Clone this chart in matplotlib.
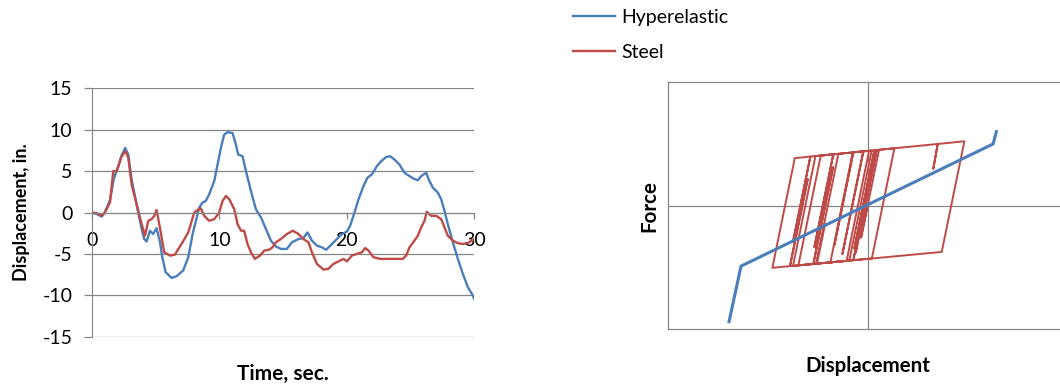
import matplotlib
matplotlib.use("Agg")
import matplotlib.pyplot as plt

# displacement time histories
hyper_t = [0, 0.4, 0.76, 1.0, 1.41, 1.7, 2.0, 2.3, 2.6, 2.85,
           3.11, 3.37, 3.63, 3.9, 4.1, 4.29, 4.55, 4.8, 5.07, 5.33,
           5.52, 5.78, 6.25, 6.64, 7.16, 7.56, 7.9, 8.16, 8.42, 8.68,
           8.94, 9.2, 9.6, 9.86, 10.12, 10.38, 10.65, 11.04, 11.3, 11.48,
           11.82, 12.09, 12.48, 12.87, 13.27, 13.66, 14.05, 14.44, 14.84, 15.3,
           15.7, 16.22, 16.6, 16.92, 17.27, 17.66, 18.05, 18.39, 18.84, 19.23,
           19.62, 20.02, 20.27, 20.53, 20.93, 21.32, 21.63, 21.98, 22.37, 22.71,
           23.1, 23.41, 23.75, 24.14, 24.54, 24.93, 25.23, 25.59, 25.85, 26.24,
           26.5, 26.77, 27.16, 27.42, 27.68, 27.94, 28.34, 28.73, 29.12, 29.51,
           29.9, 30.0]
hyper_disp = [0, -0.2, -0.5, 0.0, 1.5, 4.0, 5.3, 6.8, 7.8, 7.0,
              4.0, 2.0, 0.0, -2.0, -3.2, -3.5, -2.2, -2.6, -1.9, -3.5,
              -5.4, -7.2, -7.9, -7.7, -7.0, -5.4, -2.6, -1.0, 0.6, 1.2,
              1.4, 2.2, 3.8, 5.8, 7.8, 9.4, 9.7, 9.6, 8.2, 7.0,
              6.8, 5.0, 2.6, 0.4, -0.6, -2.0, -3.4, -4.1, -4.4, -4.4,
              -3.6, -3.2, -3.1, -2.4, -3.4, -4.0, -4.2, -4.5, -3.8, -3.2,
              -2.6, -2.3, -1.6, -0.4, 1.6, 3.2, 4.2, 4.6, 5.6, 6.2,
              6.7, 6.8, 6.4, 5.8, 4.8, 4.4, 4.1, 3.9, 4.4, 4.8,
              3.8, 3.0, 2.4, 1.6, 0.2, -1.4, -3.6, -5.6, -7.4, -9.0,
              -10.0, -10.4]

steel_t = [0, 0.4, 0.76, 1.0, 1.41, 1.67, 1.93, 2.12, 2.33, 2.64,
           2.85, 3.11, 3.37, 3.63, 3.9, 4.16, 4.42, 4.68, 4.89, 5.07,
           5.33, 5.67, 6.12, 6.5, 7.03, 7.56, 8.03, 8.29, 8.55, 8.81,
           9.2, 9.6, 9.99, 10.25, 10.52, 10.78, 11.17, 11.43, 11.7, 11.95,
           12.21, 12.48, 12.79, 13.2, 13.52, 13.9, 14.18, 14.44, 14.84, 15.3,
           15.77, 16.22, 16.6, 17.0, 17.27, 17.66, 18.18, 18.57, 18.97, 19.36,
           19.75, 20.02, 20.41, 20.8, 21.19, 21.45, 21.71, 22.1, 22.63, 23.36,
           23.88, 24.41, 24.67, 24.93, 25.32, 25.59, 25.85, 26.11, 26.29, 26.63,
           27.03, 27.42, 27.68, 27.94, 28.34, 28.73, 29.12, 29.51, 30.0]
steel_disp = [0, -0.1, -0.4, 0.0, 1.2, 5.0, 5.0, 5.8, 6.8, 7.4,
              6.6, 3.4, 1.8, 0.2, -1.4, -2.8, -1.0, -0.8, -0.4, 0.3,
              -1.8, -4.8, -5.2, -5.1, -3.8, -2.4, 0.0, 0.3, 0.5, -0.4,
              -1.0, -0.8, 0.0, 1.4, 2.0, 1.6, 0.4, -1.4, -2.2, -2.2,
              -3.8, -4.8, -5.6, -5.2, -4.6, -4.5, -4.2, -3.6, -3.2, -2.6,
              -2.2, -2.6, -3.2, -3.6, -4.8, -6.2, -6.9, -6.8, -6.2, -5.9,
              -5.6, -5.9, -5.2, -5.0, -4.8, -4.3, -4.6, -5.4, -5.6, -5.6,
              -5.6, -5.6, -5.2, -4.2, -3.4, -2.8, -1.8, -1.0, 0.1, -0.4,
              -0.4, -0.8, -1.8, -2.8, -3.4, -3.7, -3.8, -3.7, -3.2]

# force-displacement loops (force scaled to +-1, no units shown)
hyper_loop_disp = [-10.4, -9.5, 9.4, 9.65]
hyper_loop_force = [-0.94, -0.49, 0.50, 0.60]

steel_loop_disp = [0.0, -0.5, 0.85, 5.25, 4.92, 5.25, 7.25, 5.55, -2.8, -1.12,
                   0.3, -1.38, -5.2, -3.52, -2.58, -4.0, -2.58, -0.33, -1.9, -0.33,
                   0.5, -1.0, 0.5, 0.67, -0.9, 0.67, 2.0, 0.31, -1.08, 0.4,
                   -1.08, -4.08, -2.6, -4.08, -5.6, -3.92, -2.2, -3.88, -5.83, -4.5,
                   -5.83, -7.15, -5.47, -4.3, -5.6, -4.3, -1.08, -2.5, -1.08, 0.1,
                   -1.58, -3.8, -3.2]
steel_loop_force = [0.0, -0.26, 0.453, 0.500, 0.30, 0.500, 0.522, -0.375, -0.460, 0.432,
                    0.447, -0.445, -0.484, 0.406, 0.416, -0.335, 0.416, 0.440, -0.392, 0.440,
                    0.449, -0.346, 0.449, 0.451, -0.381, 0.451, 0.465, -0.428, -0.442, 0.342,
                    -0.442, -0.473, 0.311, -0.473, -0.488, 0.402, 0.420, -0.471, -0.490, 0.215,
                    -0.490, -0.504, 0.385, 0.398, -0.291, 0.398, 0.432, -0.321, 0.432, 0.445,
                    -0.447, -0.470, -0.152]

blue = "#4A7EBB"
red = "#BE4B48"
gray = "#868686"

plt.rcParams["font.family"] = ["Lato", "DejaVu Sans"]
plt.rcParams["axes.unicode_minus"] = False

fig = plt.figure(figsize=(10.6, 3.88), dpi=100)

# left: time history
ax1 = fig.add_axes([0.0868, 0.1322, 0.3604, 0.6402])
ax1.plot(hyper_t, hyper_disp, color=blue, lw=1.7, label="Hyperelastic")
ax1.plot(steel_t, steel_disp, color=red, lw=1.7, label="Steel")
ax1.set_xlim(0, 30)
ax1.set_ylim(-15, 15)
ax1.set_xticks([0, 10, 20, 30])
ax1.set_yticks([-15, -10, -5, 0, 5, 10, 15])
ax1.grid(axis="y", color=gray, lw=0.9)
ax1.set_axisbelow(True)
ax1.spines["top"].set_visible(False)
ax1.spines["right"].set_visible(False)
ax1.spines["bottom"].set_position(("data", 0))
ax1.spines["bottom"].set_color(gray)
ax1.spines["left"].set_color(gray)
ax1.tick_params(axis="y", colors=gray, labelcolor="black", labelsize=14,
                length=6, width=0.9, pad=8)
ax1.tick_params(axis="x", colors=gray, labelcolor="black", labelsize=14,
                length=4, width=0.9, pad=10)
ax1.set_xlabel("Time, sec.", fontweight="bold", fontsize=15)
ax1.xaxis.set_label_coords(0.5, -0.11)
ax1.set_ylabel("Displacement, in.", fontweight="bold", fontsize=13)
ax1.yaxis.set_label_coords(-0.162, 0.5)

# right: force-displacement
ax2 = fig.add_axes([0.6299, 0.152, 0.3774, 0.6359])
ax2.plot(steel_loop_disp, steel_loop_force, color=red, lw=1.4, zorder=3)
ax2.plot(hyper_loop_disp, hyper_loop_force, color=blue, lw=2.2, zorder=4)
ax2.set_xlim(-15, 15)
ax2.set_ylim(-1, 1)
ax2.set_xticks([0])
ax2.set_yticks([0])
ax2.grid(color=gray, lw=0.9)
ax2.tick_params(length=0, labelbottom=False, labelleft=False)
for s in ax2.spines.values():
    s.set_color(gray)
    s.set_linewidth(0.9)
ax2.set_xlabel("Displacement", fontweight="bold", fontsize=14.8)
ax2.xaxis.set_label_coords(0.5, -0.11)
ax2.set_ylabel("Force", fontweight="bold", fontsize=14.8)
ax2.yaxis.set_label_coords(-0.02, 0.5)

h, l = ax1.get_legend_handles_labels()
fig.legend(h, l, loc="upper left", bbox_to_anchor=(0.5403, 0.977),
           frameon=False, fontsize=14, handlelength=2.2, handletextpad=0.3,
           labelspacing=0.94, borderpad=0, borderaxespad=0)

fig.savefig("out.png", dpi=100)
